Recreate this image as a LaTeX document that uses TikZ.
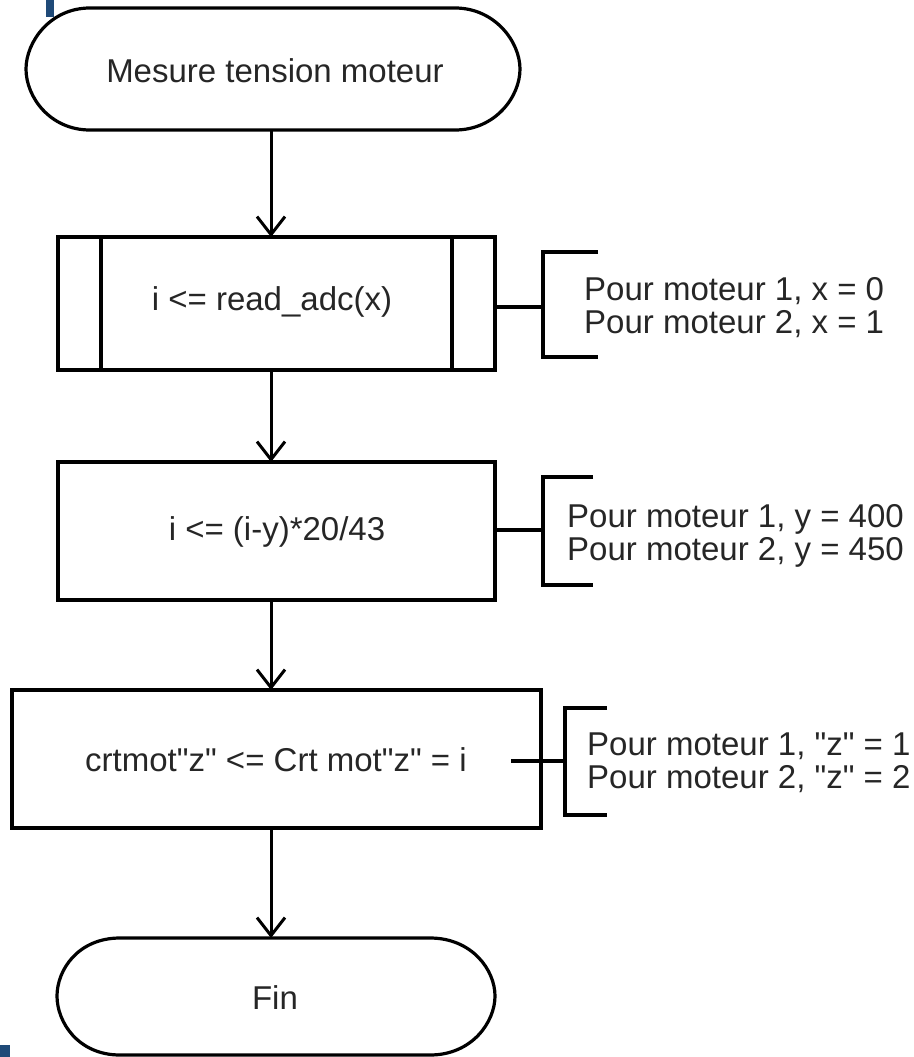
\documentclass[tikz,border=0pt]{standalone}
\usepackage{fontspec}
\setmainfont{Liberation Sans}
\usetikzlibrary{arrows.meta}
\definecolor{navy}{HTML}{1F4A78}
\newcommand{\dq}{\textquotedbl}
\begin{document}
\begin{tikzpicture}[x=1pt,y=-1pt,
  every node/.style={font=\fontsize{33}{33}\selectfont, text=black!85},
  boxnode/.style={draw, line width=3.2pt, inner sep=0pt},
  txtnode/.style={inner sep=0pt, align=left, anchor=west},
  ln/.style={line width=3.2pt},
  arr/.style={line width=3pt, -{Straight Barb[length=18pt,width=28pt,line width=3pt]}}]
\useasboundingbox (0,0) rectangle (913,1057);
% blue marks
\fill[navy] (46,0) rectangle (54,17);
\fill[navy] (0,1045) rectangle (10,1057);
% start terminal
\node[inner sep=0pt, minimum width=498pt, minimum height=122pt] (start) at (275,71) {Mesure tension moteur};
\draw[ln] (90,8) -- (455,8) .. controls (495,8) and (520,42) .. (520,69)
  .. controls (520,97) and (495,130) .. (455,130) -- (90,130)
  .. controls (50,130) and (26,97) .. (26,69) .. controls (26,42) and (50,8) .. (90,8) -- cycle;
% box 1 (predefined process)
\node[boxnode, minimum width=437pt, minimum height=133pt] (b1) at (276.5,303.5) {};
\node (t1) at (272,302) {i <= read\_adc(x)};
\draw[ln] (101,237) -- (101,370);
\draw[ln] (452,237) -- (452,370);
% box 2
\node[boxnode, minimum width=437pt, minimum height=138pt] (b2) at (276.5,531) {};
\node (t2) at (277,532) {i <= (i-y)*20/43};
% box 3
\node[boxnode, minimum width=529pt, minimum height=138pt] (b3) at (276.5,759) {};
\node (t3) at (276,760) {crtmot\dq z\dq{} <= Crt mot\dq z\dq{} = i};
% end terminal
\node[inner sep=0pt, minimum width=440pt, minimum height=117pt] (fin) at (275,998) {Fin};
\draw[ln] (120,938) -- (430,938) .. controls (472,938) and (495,970) .. (495,996)
  .. controls (495,1022) and (472,1055) .. (430,1055) -- (120,1055)
  .. controls (78,1055) and (57,1022) .. (57,996) .. controls (57,970) and (78,938) .. (120,938) -- cycle;
% arrows
\draw[arr] (271,130) -- (271,237);
\draw[arr] (271,370) -- (271,462);
\draw[arr] (271,600) -- (271,690);
\draw[arr] (271,828) -- (271,938);
% annotation 1
\coordinate (k1) at (543,307);
\draw[ln] (b1.east |- k1) -- (k1);
\draw[ln] (598,252) -- (543,252) -- (543,357) -- (598,357);
\node[txtnode] (a1) at (584,308) {Pour moteur 1, x = 0\\Pour moteur 2, x = 1};
% annotation 2
\coordinate (k2) at (543,530);
\draw[ln] (b2.east |- k2) -- (k2);
\draw[ln] (593,477) -- (543,477) -- (543,585) -- (593,585);
\node[txtnode] (a2) at (567,536) {Pour moteur 1, y = 400\\Pour moteur 2, y = 450};
% annotation 3
\coordinate (k3s) at (511,761);
\coordinate (k3) at (565,761);
\draw[ln] (k3s) -- (k3);
\draw[ln] (607,708) -- (565,708) -- (565,815) -- (607,815);
\node[txtnode] (a3) at (587,763) {Pour moteur 1, \dq z\dq{} = 1\\Pour moteur 2, \dq z\dq{} = 2};
\end{tikzpicture}
\end{document}
